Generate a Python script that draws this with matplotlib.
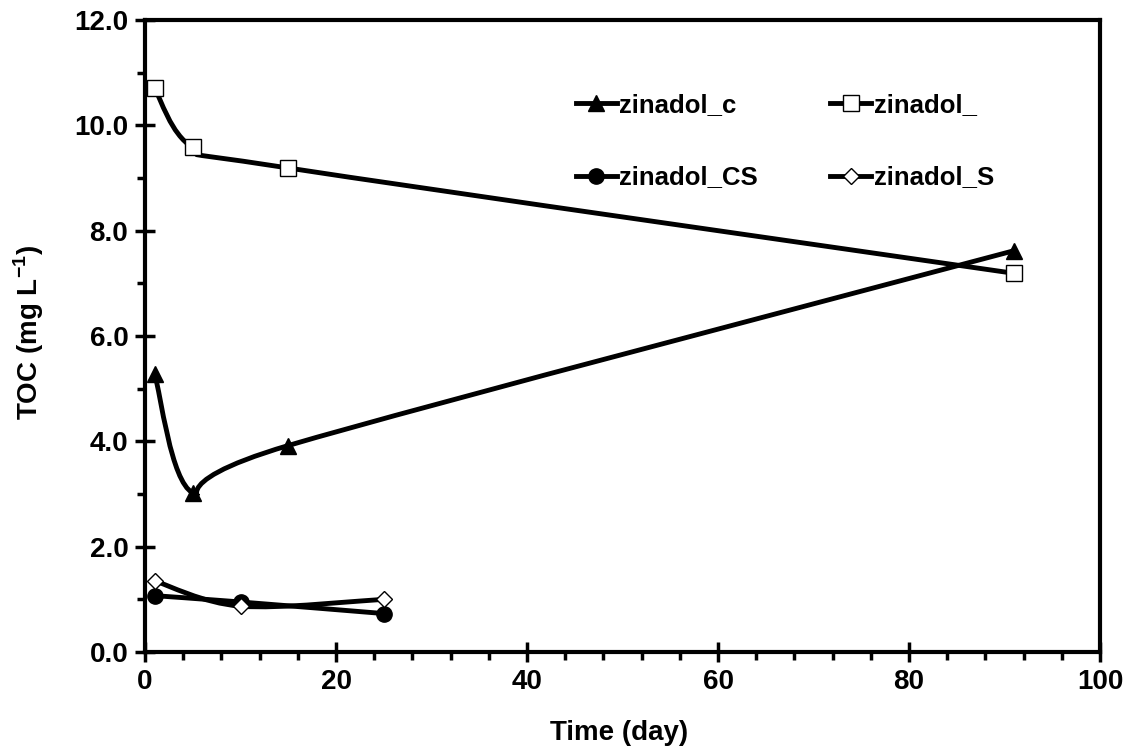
import matplotlib
matplotlib.use("Agg")
from matplotlib import pyplot as plt
from matplotlib.path import Path
from matplotlib.patches import PathPatch
from matplotlib.lines import Line2D
from matplotlib.ticker import MultipleLocator, FormatStrFormatter

plt.rcParams['font.family'] = ['Liberation Sans', 'DejaVu Sans']
plt.rcParams['font.weight'] = 'bold'
plt.rcParams['mathtext.fontset'] = 'custom'
plt.rcParams['mathtext.rm'] = 'Liberation Sans'
plt.rcParams['mathtext.bf'] = 'Liberation Sans:bold'

# data
c_day = [1, 5, 15, 91]
c_toc = [5.28, 3.02, 3.92, 7.62]

plain_day = [1, 5, 15, 91]
plain_toc = [10.70, 9.58, 9.19, 7.19]

cs_day = [1, 10, 25]
cs_toc = [1.07, 0.95, 0.73]

s_day = [1, 10, 25]
s_toc = [1.35, 0.87, 1.00]


def smooth_path(xs, ys):
    # excel style smoothed line: cubic bezier through the points
    pts = list(zip(xs, ys))
    verts = [pts[0]]
    codes = [Path.MOVETO]
    n = len(pts)
    for i in range(n - 1):
        p0 = pts[i - 1] if i > 0 else pts[i]
        p1 = pts[i]
        p2 = pts[i + 1]
        p3 = pts[i + 2] if i + 2 < n else pts[i + 1]
        c1 = (p1[0] + (p2[0] - p0[0]) / 6, p1[1] + (p2[1] - p0[1]) / 6)
        c2 = (p2[0] - (p3[0] - p1[0]) / 6, p2[1] - (p3[1] - p1[1]) / 6)
        verts += [c1, c2, p2]
        codes += [Path.CURVE4] * 3
    return Path(verts, codes)


fig = plt.figure(figsize=(11.25, 7.46), dpi=100)
ax = fig.add_axes([145 / 1125, 1 - 652 / 746, 955 / 1125, 632 / 746])

series = [
    (c_day, c_toc, dict(marker='^', ms=12, mfc='black', mec='black'), "zinadol_c"),
    (cs_day, cs_toc, dict(marker='o', ms=11, mfc='black', mec='black'), "zinadol_CS"),
    (plain_day, plain_toc, dict(marker='s', ms=12, mfc='white', mec='black', mew=1), "zinadol_"),
    (s_day, s_toc, dict(marker='D', ms=8.5, mfc='white', mec='black', mew=1), "zinadol_S"),
]

handles = []
for xs, ys, mk, name in series:
    ax.add_patch(PathPatch(smooth_path(xs, ys), fill=False, edgecolor='black',
                           lw=3.5, capstyle='round', zorder=2))
    ax.plot(xs, ys, ls='none', zorder=3, **mk)
    handles.append(Line2D([], [], color='black', lw=3.5, label=name, **mk))

ax.set_xlim(0, 100)
ax.set_ylim(0, 12)
ax.xaxis.set_major_locator(MultipleLocator(20))
ax.xaxis.set_minor_locator(MultipleLocator(4))
ax.yaxis.set_major_locator(MultipleLocator(2))
ax.yaxis.set_minor_locator(MultipleLocator(1))
ax.yaxis.set_major_formatter(FormatStrFormatter('%.1f'))

for sp in ax.spines.values():
    sp.set_linewidth(3)
ax.tick_params(which='major', direction='inout', length=14, width=2.5,
               labelsize=20, pad=5)
ax.tick_params(which='minor', direction='out', length=6, width=2.5)
ax.tick_params(top=False, right=False, which='both')

ax.set_xlabel("Time (day)", fontsize=20, fontweight='bold')
ax.set_ylabel("TOC (mg $\\mathbf{L}^{\\mathrm{-1}}$)", fontsize=20, fontweight='bold')
ax.xaxis.set_label_coords(0.496, -0.128)
ax.xaxis.label.set_va('center')
ax.yaxis.set_label_coords(-0.122, 0.505)
ax.yaxis.label.set_va('center')

ax.legend(handles=handles, loc='upper left', bbox_to_anchor=(0.451, 0.885),
          ncol=2, frameon=False, handlelength=1.6,
          handletextpad=0.1, columnspacing=2.8, labelspacing=1.9,
          borderpad=0, borderaxespad=0, prop={'weight': 'bold', 'size': 18.5})

fig.savefig("out.png", dpi=100)
